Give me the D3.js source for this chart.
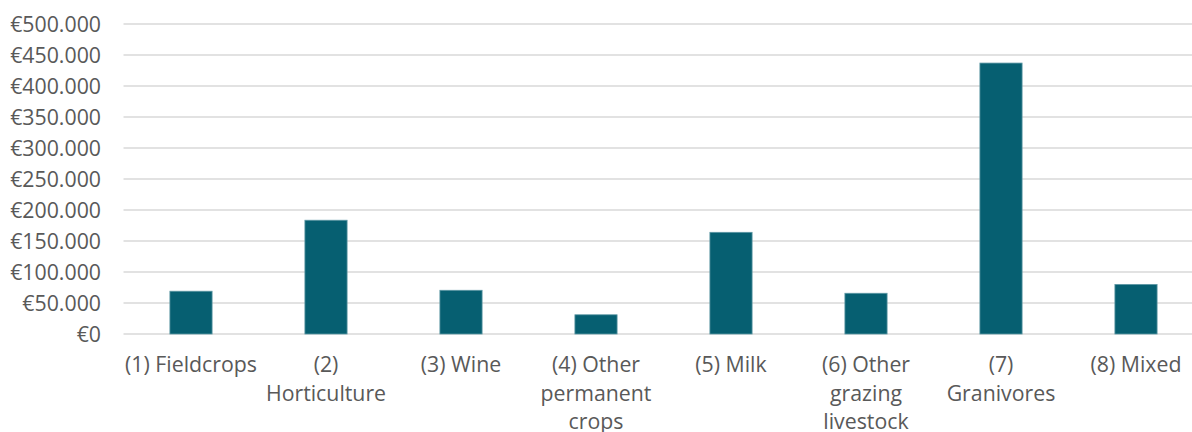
<!DOCTYPE html>
<html>
<head>
<meta charset="utf-8">
<script src="https://cdn.jsdelivr.net/npm/d3@7"></script>
<style>
  html, body { margin: 0; padding: 0; background: #fff; }
  svg { display: block; }
  text { font-family: "Open Sans", "Noto Sans", sans-serif; fill: #595959; }
</style>
</head>
<body>
<svg id="chart" width="1192" height="432"></svg>
<script>
// Farm types and their average values (EUR)
const categories = [
  "(1) Fieldcrops", "(2) Horticulture", "(3) Wine", "(4) Other permanent crops",
  "(5) Milk", "(6) Other grazing livestock", "(7) Granivores", "(8) Mixed"
];
const values = [69000, 183500, 70500, 31000, 164000, 65700, 437000, 80000];
// Axis label lines, wrapped to the width of each category slot
const tickLines = [
  ["(1) Fieldcrops"],
  ["(2)", "Horticulture"],
  ["(3) Wine"],
  ["(4) Other", "permanent", "crops"],
  ["(5) Milk"],
  ["(6) Other", "grazing", "livestock"],
  ["(7)", "Granivores"],
  ["(8) Mixed"]
];
const yTicks = [0, 50000, 100000, 150000, 200000, 250000, 300000, 350000, 400000, 450000, 500000];

const svg = d3.select("#chart");
const plotLeft = 123.5, plotRight = 1203.5, plotTop = 24, plotBottom = 334;

const x = d3.scaleBand().domain(categories).range([plotLeft, plotRight]).paddingInner(0.6875).paddingOuter(0.34375);
const y = d3.scaleLinear().domain([0, 500000]).range([plotBottom, plotTop]);

const fmt = v => "€" + d3.format(",")(v).replace(/,/g, ".");

// Horizontal gridlines
svg.append("g").selectAll("line").data(yTicks).join("line")
  .attr("x1", plotLeft).attr("x2", plotRight)
  .attr("y1", d => y(d)).attr("y2", d => y(d))
  .attr("stroke", "#d9d9d9").attr("stroke-width", 1.5);

// Y axis labels
const yAxis = d3.axisLeft(y).tickValues(yTicks).tickFormat(fmt).tickSize(0).tickPadding(0);
const gy = svg.append("g").attr("transform", "translate(101,0)").call(yAxis);
gy.select(".domain").remove();
gy.selectAll("text").style("font-size", "21.3px").attr("fill", "#595959").attr("dy", "0.35em");

// Bars
svg.append("g").selectAll("rect").data(values).join("rect")
  .attr("x", (d, i) => x(categories[i]))
  .attr("width", x.bandwidth())
  .attr("y", d => y(d))
  .attr("height", d => y(0) - y(d))
  .attr("fill", "#065f71")
  .attr("stroke", "#5e98a5").attr("stroke-width", 0.8);

// Category labels
const xAxis = d3.axisBottom(x).tickSize(0).tickFormat("");
const gx = svg.append("g").attr("transform", `translate(0,${plotBottom})`).call(xAxis);
gx.select(".domain").remove();
gx.selectAll(".tick").each(function(d, i) {
  const t = d3.select(this).append("text")
    .attr("text-anchor", "middle")
    .style("font-size", "21.3px");
  tickLines[i].forEach((line, j) => {
    t.append("tspan").attr("x", 0).attr("y", 38 + j * 28.5).text(line);
  });
});
</script>
</body>
</html>
